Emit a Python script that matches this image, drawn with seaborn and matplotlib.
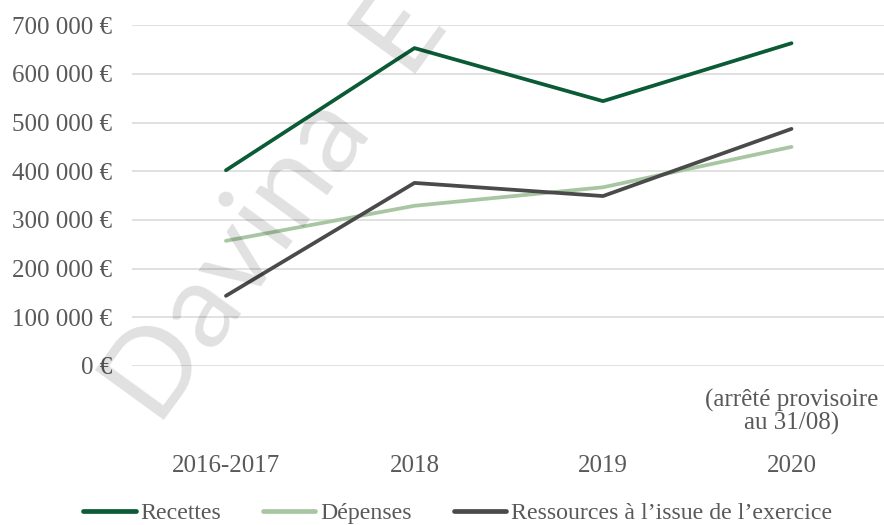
import pandas as pd
import seaborn as sns
import matplotlib.pyplot as plt
import matplotlib.transforms as mtransforms

# Data
periods = ['2016-2017', '2018', '2019', '2020']
recettes = [402000, 653000, 544000, 663000]
depenses = [257000, 329000, 367000, 450000]
ressources = [144000, 376000, 349000, 487000]
series_names = ['Recettes', 'Dépenses', "Ressources à l’issue de l’exercice"]
colors = ['#0B5B36', '#A8C6A2', '#4A4A4A']
yticks = [0, 100000, 200000, 300000, 400000, 500000, 600000, 700000]

df = pd.DataFrame({
    'Période': periods * 3,
    'Montant': recettes + depenses + ressources,
    'Série': [s for s in series_names for _ in periods],
})

sns.set_style('white')
plt.rcParams['font.family'] = ['Liberation Serif', 'DejaVu Serif']
fs = 18

fig = plt.figure(figsize=(8.84, 5.25), dpi=100)
ax = fig.add_axes([0.149, 0.303, 0.853, 0.649])

sns.lineplot(data=df, x='Période', y='Montant', hue='Série', palette=colors,
             linewidth=2.7, ax=ax, legend=True, sort=False)

ax.set_xlim(-0.5, 3.5)
ax.set_ylim(0, 700000)
ax.set_yticks(yticks)
ax.set_yticklabels([f'{v:,.0f}'.replace(',', ' ') + ' €' for v in yticks])
ax.grid(axis='y', color='#D9D9D9', linewidth=1.1)
ax.set_axisbelow(True)
for sp in ax.spines.values():
    sp.set_visible(False)
ax.set_xlabel('')
ax.set_ylabel('')
ax.tick_params(axis='y', length=0, pad=14, labelsize=fs, labelcolor='#595959')
ax.tick_params(axis='x', length=0, pad=64, labelsize=fs, labelcolor='#595959')

# note under the 2020 point
trans = mtransforms.blended_transform_factory(ax.transData, ax.transAxes)
ax.text(3, -0.135, '(arrêté provisoire\nau 31/08)', transform=trans,
        ha='center', va='center', multialignment='center',
        fontsize=fs, color='#595959', linespacing=1.0)

# legend at the bottom
handles, labels = ax.get_legend_handles_labels()
for h in handles:
    h.set_linewidth(3.4)
ax.get_legend().remove()
fig.legend(handles, labels, loc='center', bbox_to_anchor=(0.5175, 0.022), ncol=3,
           frameon=False, fontsize=17.2, handlelength=2.2, handletextpad=0.2,
           columnspacing=1.75, labelcolor='#595959')

# watermark
fig.text(158 / 884, 1 - 428 / 525, 'Davina  E', fontsize=86, family='Lato',
         color='black', alpha=0.12, rotation=54,
         rotation_mode='anchor', ha='left', va='baseline', zorder=5)

fig.savefig('out.png', dpi=100)
